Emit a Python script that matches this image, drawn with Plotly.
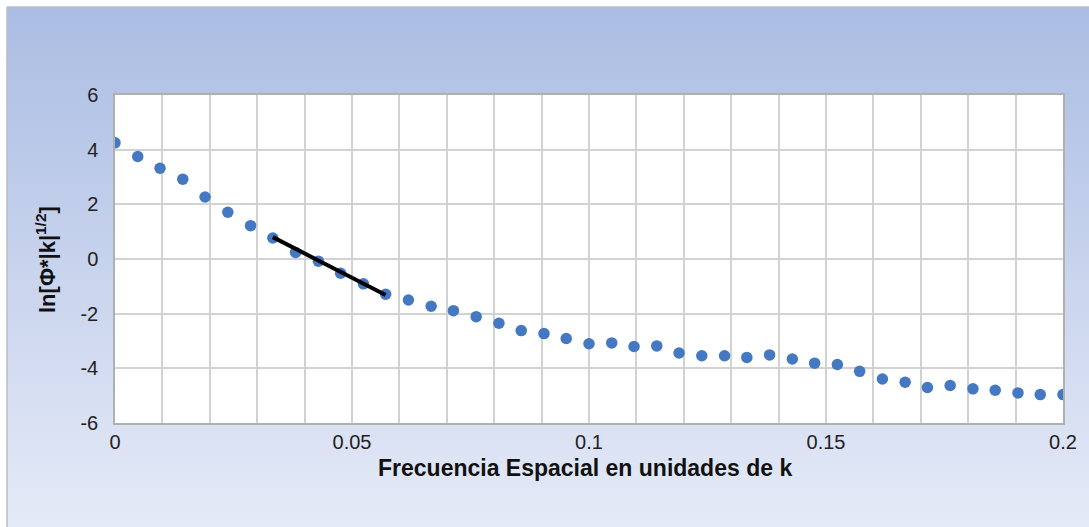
import plotly.graph_objects as go

# ---- data ----
k_values = [0.0000, 0.0048, 0.0095, 0.0143, 0.0190, 0.0238, 0.0286, 0.0333, 0.0381,
            0.0429, 0.0476, 0.0524, 0.0571, 0.0619, 0.0667, 0.0714, 0.0762, 0.0810,
            0.0857, 0.0905, 0.0952, 0.1000, 0.1048, 0.1095, 0.1143, 0.1190, 0.1238,
            0.1286, 0.1333, 0.1381, 0.1429, 0.1476, 0.1524, 0.1571, 0.1619, 0.1667,
            0.1714, 0.1762, 0.1810, 0.1857, 0.1905, 0.1952, 0.2000]
ln_values = [4.25, 3.75, 3.32, 2.92, 2.27, 1.71, 1.22, 0.77, 0.24,
             -0.08, -0.52, -0.91, -1.29, -1.50, -1.73, -1.89, -2.11, -2.35,
             -2.62, -2.73, -2.91, -3.10, -3.07, -3.20, -3.18, -3.44, -3.54,
             -3.54, -3.60, -3.51, -3.66, -3.81, -3.86, -4.11, -4.39, -4.51,
             -4.70, -4.63, -4.75, -4.80, -4.90, -4.96, -4.96]
fit_k = [0.0333, 0.0571]
fit_ln = [0.80, -1.32]

x_tick_vals = [0, 0.05, 0.1, 0.15, 0.2]
x_tick_text = ["0", "0.05", "0.1", "0.15", "0.2"]
y_tick_vals = [-6, -4, -2, 0, 2, 4, 6]
y_tick_text = ["-6", "-4", "-2", "0", "2", "4", "6"]

x_title = "<b>Frecuencia Espacial en unidades de k</b>"
y_title = "<b>ln[Φ*|k|<sup>1/2</sup>]</b>"

# ---- styling ----
W, H = 1089, 527
ML, MR, MT, MB = 115, 26, 95, 104
PW, PH = W - ML - MR, H - MT - MB
FONT = "Liberation Sans, Arial, sans-serif"
GRID = "#d2d2d2"


def px_to_paper_x(px):
    return (px - ML) / PW


def px_to_paper_y(py):
    return (H - MB - py) / PH


fig = go.Figure()
fig.add_trace(go.Scatter(x=k_values, y=ln_values, mode="markers",
                         marker=dict(size=11.5, color="#4478c2"),
                         hoverinfo="x+y"))
fig.add_trace(go.Scatter(x=fit_k, y=fit_ln, mode="lines",
                         line=dict(color="black", width=4)))

# gradient background (strips)
shapes = []
top_c = (171, 189, 227)
bot_c = (229, 234, 247)
y_start, y_end = 7, H
n = 65
for i in range(n):
    t = (i + 0.5) / n
    c = tuple(round(top_c[j] + (bot_c[j] - top_c[j]) * t) for j in range(3))
    ya = y_start + (y_end - y_start) * i / n
    yb = y_start + (y_end - y_start) * (i + 1) / n + 0.6
    shapes.append(dict(type="rect", xref="paper", yref="paper", layer="below",
                       x0=px_to_paper_x(7), x1=px_to_paper_x(W + 2),
                       y0=px_to_paper_y(yb), y1=px_to_paper_y(ya),
                       line=dict(width=0), fillcolor="rgb(%d,%d,%d)" % c))
# outer border lines
shapes.append(dict(type="line", xref="paper", yref="paper", layer="below",
                   x0=px_to_paper_x(7), x1=px_to_paper_x(W + 2),
                   y0=px_to_paper_y(7), y1=px_to_paper_y(7),
                   line=dict(color="#b9bcc4", width=1.5)))
shapes.append(dict(type="line", xref="paper", yref="paper", layer="below",
                   x0=px_to_paper_x(7), x1=px_to_paper_x(7),
                   y0=px_to_paper_y(7), y1=px_to_paper_y(H + 2),
                   line=dict(color="#b9bcc4", width=1.5)))
# white plot area
shapes.append(dict(type="rect", xref="x domain", yref="y domain", layer="below",
                   x0=0, x1=1, y0=0, y1=1, line=dict(width=0), fillcolor="white"))

annotations = [
    dict(text=x_title, xref="paper", yref="paper",
         x=px_to_paper_x(585), y=px_to_paper_y(468),
         xanchor="center", yanchor="middle", showarrow=False,
         font=dict(family=FONT, size=23, color="#111111")),
    dict(text=y_title, xref="paper", yref="paper",
         x=px_to_paper_x(46), y=px_to_paper_y(260),
         xanchor="center", yanchor="middle", showarrow=False, textangle=-90,
         font=dict(family=FONT, size=22, color="#111111")),
]

fig.update_layout(
    width=W, height=H, autosize=False,
    margin=dict(l=ML, r=MR, t=MT, b=MB, pad=0),
    paper_bgcolor="white", plot_bgcolor="white",
    showlegend=False,
    shapes=shapes, annotations=annotations,
    font=dict(family=FONT, color="#222222"),
    xaxis=dict(range=[0, 0.2], tickmode="array", tickvals=x_tick_vals, ticktext=x_tick_text,
               showgrid=True, gridcolor=GRID, gridwidth=2, zeroline=False,
               minor=dict(dtick=0.01, tick0=0, showgrid=True, gridcolor=GRID, gridwidth=2),
               showline=True, linecolor="#b0b0b0", linewidth=1.5, mirror=True,
               ticks="", ticklabelstandoff=0,
               tickfont=dict(family=FONT, size=20, color="#222222")),
    yaxis=dict(range=[-6, 6], tickmode="array", tickvals=y_tick_vals, ticktext=y_tick_text,
               showgrid=True, gridcolor=GRID, gridwidth=2, zeroline=False,
               showline=True, linecolor="#b0b0b0", linewidth=1.5, mirror=True,
               ticks="", ticklabelstandoff=11,
               tickfont=dict(family=FONT, size=20, color="#222222")),
)

fig.write_html("out.html")
